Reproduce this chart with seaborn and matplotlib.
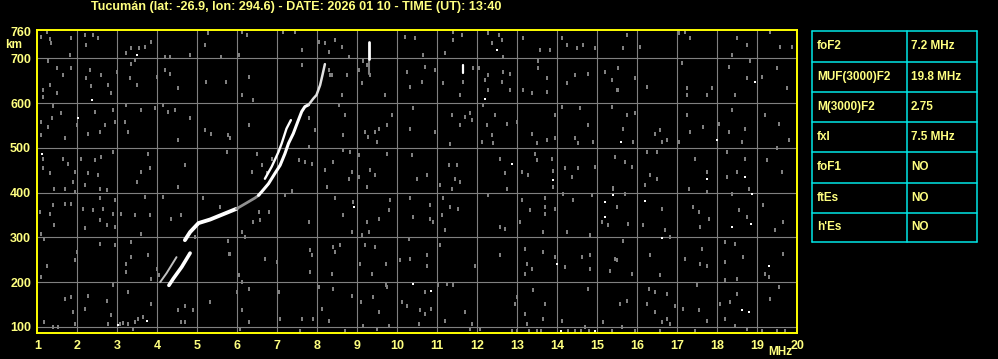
import numpy as np
import pandas as pd
import matplotlib
matplotlib.use("Agg")
import matplotlib.pyplot as plt
from matplotlib.markers import MarkerStyle
import seaborn as sns

# ---------------- data ----------------
title = "Tucumán (lat: -26.9, lon: 294.6) - DATE: 2026 01 10 - TIME (UT): 13:40"
freq_ticks = list(range(1, 21))
freq_labels = [str(v) for v in freq_ticks]
height_ticks = [100, 200, 300, 400, 500, 600, 700, 760]
height_labels = [str(v) for v in height_ticks]

param_names = ["foF2", "MUF(3000)F2", "M(3000)F2", "fxI", "foF1", "ftEs", "h'Es"]
param_values = ["7.2 MHz", "19.8 MHz", "2.75", "7.5 MHz", "NO", "NO", "NO"]

# echo trace segments (frequency MHz, virtual height km)
trace_o_low_f = [4.29, 4.40, 4.61, 4.82]
trace_o_low_h = [193, 208, 234, 265]
trace_x_low_f = [4.07, 4.23, 4.48]
trace_x_low_h = [200, 220, 256]
trace_main_f = [4.69, 4.82, 5.03, 5.32, 5.65, 5.98]
trace_main_h = [294, 312, 332, 340, 352, 364]
trace_link_f = [5.98, 6.23, 6.44, 6.55]
trace_link_h = [364, 377, 388, 395]
trace_upper_f = [6.53, 6.61, 6.78, 6.94, 7.07, 7.19, 7.28, 7.40, 7.51, 7.61, 7.69, 7.78]
trace_upper_h = [394, 402, 420, 443, 461, 487, 510, 532, 558, 581, 592, 596]
trace_top_f = [7.78, 7.90, 7.98, 8.07, 8.13, 8.19]
trace_top_h = [596, 610, 618, 640, 663, 687]
trace_x_up_f = [6.69, 6.86, 7.03, 7.11, 7.23, 7.34]
trace_x_up_h = [431, 458, 491, 510, 543, 562]
spike1_f = [9.29, 9.29]
spike1_h = [698, 737]
spike1_grey_h = [666, 698]
spike2_f = [11.65, 11.65]
spike2_h = [668, 685]

# background noise dots (frequency, height)
noise_1_5 = [
    (1.23, 758), (1.10, 748), (1.31, 743), (1.83, 746), (1.81, 707), (1.33, 734), (1.27, 693),
    (1.48, 678), (1.64, 663), (1.14, 629), (1.31, 640), (1.48, 622), (1.14, 614), (1.85, 678),
    (1.39, 594), (1.10, 558), (1.37, 566), (1.68, 521), (1.98, 551), (1.10, 528), (1.27, 547),
    (1.60, 577), (1.14, 476), (1.14, 454), (1.31, 443), (1.64, 476), (1.77, 465), (1.93, 446),
    (1.43, 409), (1.68, 409), (1.89, 424), (1.39, 372), (1.06, 357), (1.31, 353), (1.68, 375),
    (1.85, 375), (1.43, 327), (1.10, 308), (1.93, 402), (1.18, 297), (1.98, 267), (1.93, 249),
    (1.23, 237), (1.10, 211), (1.18, 111), (1.39, 100), (1.68, 163), (1.52, 100), (1.85, 167),
    (1.89, 133), (1.93, 107),
    (2.18, 752), (2.39, 752), (2.22, 730), (2.52, 745), (2.31, 674), (2.35, 639), (2.60, 663),
    (2.22, 655), (2.77, 640), (2.85, 622), (2.98, 670), (2.43, 581), (2.89, 584), (2.27, 532),
    (2.56, 536), (2.68, 551), (2.93, 558), (2.10, 476), (2.43, 472), (2.60, 480), (2.89, 491),
    (2.27, 443), (2.52, 439), (2.19, 416), (2.56, 409), (2.73, 405), (2.56, 387), (2.93, 383),
    (2.14, 364), (2.39, 361), (2.64, 364), (2.89, 353), (2.18, 320), (2.56, 338), (2.73, 327),
    (2.93, 323), (2.56, 286), (2.93, 282), (2.27, 170), (2.73, 159), (2.18, 140), (2.85, 126),
    (2.89, 193), (2.77, 107), (3.06, 107),
    (3.23, 711), (3.35, 722), (3.54, 722), (3.68, 726), (3.85, 737), (3.33, 687), (3.43, 696),
    (3.31, 655), (3.48, 640), (3.98, 659), (3.23, 596), (3.60, 584), (3.93, 588), (3.27, 536),
    (3.18, 558), (3.77, 487), (3.60, 446), (3.81, 454), (3.48, 424), (3.68, 390), (3.10, 353),
    (3.43, 349), (3.81, 349), (3.60, 308), (3.35, 290), (3.35, 256), (3.23, 241), (3.77, 260),
    (3.23, 223), (3.85, 208), (3.27, 178), (3.64, 122), (3.85, 152), (3.52, 118), (3.27, 107),
    (3.39, 96), (3.15, 110), (3.45, 112),
    (4.18, 704), (4.31, 704), (4.18, 674), (4.31, 666), (4.52, 634), (4.81, 707), (4.14, 596),
    (4.27, 581), (4.43, 584), (4.81, 566), (4.52, 517), (4.68, 461), (4.52, 413), (4.14, 390),
    (4.60, 349), (4.35, 342), (4.68, 148), (4.52, 137), (4.89, 137), (4.60, 111), (4.68, 111),
    (4.00, 230), (4.05, 215), (4.95, 300),
]
noise_5_10 = [
    (5.27, 756), (5.18, 730), (5.60, 704), (5.22, 648), (5.72, 648), (5.35, 532), (5.77, 528),
    (5.18, 540), (5.14, 387), (5.56, 368), (5.77, 293), (5.81, 264), (5.31, 155), (5.73, 491),
    (5.82, 521),
    (6.11, 758), (6.23, 752), (6.03, 707), (6.28, 659), (6.11, 618), (6.40, 607), (6.28, 551),
    (6.48, 487), (6.36, 446), (6.61, 461), (6.73, 443), (6.53, 357), (6.40, 334), (6.57, 338),
    (6.19, 301), (6.11, 312), (5.78, 264), (6.03, 215), (6.11, 200), (6.28, 185), (6.69, 252),
    (6.00, 178), (6.11, 137), (6.28, 111), (6.07, 96), (6.86, 476), (6.78, 357), (6.98, 245),
    (7.07, 118),
    (7.15, 758), (7.44, 758), (7.61, 719), (7.61, 684), (7.78, 566), (7.78, 502), (7.94, 540),
    (7.36, 403), (7.53, 472), (7.69, 469), (7.86, 465), (7.19, 394), (7.78, 334), (7.82, 271),
    (7.86, 260), (7.82, 223), (7.61, 118), (7.90, 118), (7.57, 92), (7.03, 178), (8.28, 674),
    (8.32, 663),
    (8.03, 737), (8.19, 734), (8.44, 741), (8.61, 726), (8.28, 715), (8.78, 704), (8.36, 663),
    (8.73, 663), (8.61, 618), (8.53, 596), (8.69, 573), (8.65, 528), (8.40, 469), (8.19, 450),
    (8.23, 413), (8.86, 446), (8.65, 495), (8.82, 491), (8.78, 431), (8.44, 387), (8.90, 379),
    (8.65, 349), (8.86, 312), (8.40, 278), (8.57, 282), (8.44, 267), (8.36, 219), (8.40, 185),
    (8.11, 140), (8.28, 114), (8.69, 92), (8.03, 189), (8.86, 170),
    (9.03, 674), (9.15, 693), (9.23, 685), (9.32, 663), (9.11, 644), (9.69, 618), (9.19, 536),
    (9.27, 525), (9.44, 536), (9.53, 543), (9.73, 551), (9.86, 573), (9.48, 513), (9.03, 484),
    (9.32, 450), (9.44, 439), (9.73, 487), (9.03, 435), (9.23, 413), (9.81, 383), (9.78, 361),
    (9.53, 342), (9.24, 334), (9.11, 305), (9.28, 312), (9.19, 282), (9.44, 279), (9.06, 241),
    (9.71, 241), (9.37, 219), (9.71, 193), (9.73, 189), (9.40, 167), (9.08, 155), (9.53, 133),
    (9.78, 103), (9.15, 103), (9.49, 96),
]
noise_10_15 = [
    (10.19, 748), (10.23, 670), (10.32, 637), (10.44, 745), (10.40, 588), (10.32, 543),
    (10.36, 484), (10.48, 431), (10.32, 387), (10.40, 346), (10.28, 297), (10.07, 249),
    (10.32, 252), (10.11, 155), (10.23, 148), (10.53, 107), (10.57, 137), (10.65, 707),
    (10.69, 681), (10.94, 674), (10.61, 648), (10.94, 536), (10.73, 439), (10.82, 372),
    (10.82, 342), (10.90, 334), (10.73, 260), (10.73, 237), (10.69, 178), (10.85, 140),
    (10.69, 129),
    (11.40, 758), (11.40, 741), (11.61, 752), (11.19, 711), (11.65, 648), (11.57, 618),
    (11.90, 678), (11.15, 644), (11.36, 573), (11.69, 569), (11.82, 577), (11.86, 562),
    (11.57, 551), (11.32, 509), (11.28, 461), (11.44, 431), (11.48, 461), (11.57, 424),
    (11.07, 416), (11.36, 409), (11.15, 387), (11.32, 368), (11.52, 364), (11.11, 349),
    (11.19, 316), (11.07, 282), (11.40, 193), (11.02, 193), (11.23, 197), (11.69, 133),
    (11.19, 114), (11.86, 107), (11.82, 96), (11.94, 237),
    (12.27, 756), (12.53, 752), (12.36, 734), (12.61, 741), (12.65, 704), (12.03, 678),
    (12.27, 663), (12.19, 651), (12.27, 629), (12.65, 670), (12.82, 666), (12.61, 648),
    (12.82, 629), (12.15, 596), (12.44, 573), (12.23, 551), (12.73, 554), (12.98, 558),
    (12.36, 528), (12.40, 510), (12.11, 513), (12.57, 476), (12.69, 443), (12.73, 409),
    (12.27, 394), (12.57, 323), (12.69, 319), (12.57, 260), (12.98, 167), (12.94, 152),
    (12.07, 96), (12.86, 92),
    (13.15, 745), (13.57, 719), (13.82, 719), (13.53, 693), (13.53, 678), (13.73, 655),
    (13.73, 625), (13.15, 629), (13.36, 622), (13.94, 573), (13.36, 532), (13.48, 510),
    (13.73, 517), (13.94, 521), (13.44, 487), (13.48, 472), (13.86, 476), (13.11, 446),
    (13.27, 439), (13.90, 448), (13.90, 413), (13.69, 387), (13.69, 368), (13.69, 353),
    (13.11, 383), (13.32, 361), (13.94, 364), (13.65, 312), (13.07, 334), (13.19, 275),
    (13.23, 241), (13.36, 230), (13.19, 219), (13.65, 267), (13.94, 256), (13.40, 182),
    (13.69, 152), (13.65, 118), (13.23, 107), (13.19, 129), (13.48, 92), (13.00, 90),
    (13.30, 90), (13.60, 90),
    (14.11, 745), (14.23, 730), (14.48, 722), (14.65, 730), (14.94, 722), (14.44, 663),
    (14.23, 644), (14.78, 666), (14.11, 592), (14.57, 588), (14.78, 551), (14.44, 521),
    (14.53, 510), (14.90, 513), (14.19, 454), (14.36, 435), (14.53, 454), (14.94, 458),
    (14.15, 398), (14.40, 383), (14.86, 394), (14.23, 312), (14.82, 305), (14.19, 234),
    (14.61, 256), (14.82, 260), (14.82, 230), (14.78, 185), (14.11, 114), (14.69, 100),
    (14.27, 92), (14.45, 90), (14.60, 90), (14.80, 91),
]
noise_15_20 = [
    (15.19, 670), (15.36, 651), (15.52, 678), (15.48, 629), (15.36, 592), (15.40, 409),
    (15.28, 327), (15.11, 334), (15.44, 252), (15.32, 226), (15.15, 111), (15.36, 92),
    (15.73, 752), (15.65, 722), (15.53, 678), (15.94, 655), (15.53, 629), (15.73, 573),
    (15.94, 577), (15.65, 543), (15.90, 513), (15.44, 480), (15.69, 469), (15.86, 458),
    (15.40, 410), (15.69, 398), (15.48, 368), (15.78, 331), (15.65, 293), (15.48, 249),
    (15.86, 219), (15.73, 159), (15.57, 152), (15.61, 100), (15.94, 92),
    (16.07, 726), (16.23, 637), (16.44, 532), (16.57, 540), (16.61, 513), (16.74, 517),
    (16.23, 491), (16.48, 491), (16.32, 439), (16.48, 431), (16.19, 416), (16.61, 364),
    (16.15, 327), (16.69, 316), (16.82, 301), (16.32, 260), (16.57, 215), (16.28, 185),
    (16.44, 178), (16.74, 174), (16.23, 152), (16.44, 133), (16.61, 111), (16.74, 118),
    (16.82, 107), (16.57, 92), (16.94, 148),
    (17.19, 758), (17.32, 745), (17.03, 756), (17.11, 689), (17.23, 633), (17.23, 618),
    (17.73, 618), (17.86, 633), (17.23, 573), (17.65, 547), (17.32, 536), (17.03, 513),
    (17.44, 476), (17.73, 446), (17.28, 409), (17.73, 402), (17.40, 368), (17.53, 357),
    (17.57, 323), (17.78, 342), (17.61, 275), (17.57, 241), (17.73, 237), (17.19, 252),
    (17.48, 193), (17.15, 140), (17.53, 137), (17.73, 114), (17.44, 92),
    (18.48, 745), (18.73, 730), (18.36, 707), (18.82, 693), (18.28, 681), (18.73, 655),
    (18.44, 618), (18.36, 584), (18.03, 554), (18.28, 536), (18.69, 543), (18.61, 513),
    (18.23, 491), (18.69, 476), (18.48, 446), (18.23, 435), (18.78, 409), (18.36, 398),
    (18.53, 361), (18.73, 346), (18.19, 290), (18.44, 286), (18.65, 256), (18.19, 245),
    (18.48, 208), (18.19, 204), (18.48, 174), (18.32, 155), (18.07, 152), (18.19, 118),
    (18.44, 103), (18.73, 96),
    (19.32, 758), (19.57, 726), (19.86, 726), (19.11, 659), (19.48, 678), (19.73, 633),
    (19.19, 573), (19.53, 554), (19.78, 517), (19.48, 499), (19.23, 472), (19.61, 446),
    (19.15, 372), (19.65, 334), (19.44, 316), (19.28, 211), (19.65, 264), (19.19, 219),
    (19.53, 189), (19.32, 163), (19.11, 92), (19.48, 92), (19.69, 92),
]
noise_white = [
    (1.12, 487), (2.38, 607), (2.02, 566), (3.48, 707), (3.03, 105), (3.73, 114),
    (8.92, 368), (10.40, 196), (10.84, 180), (12.48, 719), (12.19, 610), (12.86, 465),
    (13.90, 428), (13.98, 241), (14.94, 90), (14.09, 92), (15.19, 378), (15.38, 394),
    (15.19, 346), (15.59, 513), (15.40, 394), (16.19, 381), (16.63, 299), (17.73, 431),
    (17.98, 517), (18.94, 648), (18.69, 435), (18.88, 398), (18.38, 323), (18.84, 331),
    (18.63, 137), (18.79, 133), (19.28, 237),
]

# ---------------- style ----------------
sns.set_style("dark")
plt.rcParams["font.family"] = ["Liberation Sans", "DejaVu Sans"]
YEL_TEXT = "#ffff80"
YEL_FRAME = "#ffff00"
GRID = "#808080"
CYAN = "#00e6e6"

W, H = 998, 359
fig = plt.figure(figsize=(W / 100, H / 100), dpi=100, facecolor="black")
ax = fig.add_axes([37.3 / W, 26 / H, 760 / W, 303.5 / H], facecolor="black")

# noise
noise_all = pd.DataFrame(noise_1_5 + noise_5_10 + noise_10_15 + noise_15_20, columns=["f", "h"])
noise_w = pd.DataFrame(noise_white, columns=["f", "h"])
bar_marker = MarkerStyle([(-0.5, -0.8), (0.5, -0.8), (0.5, 0.8), (-0.5, 0.8), (-0.5, -0.8)])
sns.scatterplot(data=noise_all, x="f", y="h", ax=ax, color=GRID, marker=bar_marker,
                s=8, linewidth=0, zorder=3, legend=False)
sns.scatterplot(data=noise_w, x="f", y="h", ax=ax, color="white", marker="s",
                s=4.5, linewidth=0, zorder=4, legend=False)

def seg(fx, hy, color="white", lw=2.4):
    d = pd.DataFrame({"f": fx, "h": hy})
    sns.lineplot(data=d, x="f", y="h", ax=ax, sort=False, estimator=None,
                 color=color, linewidth=lw, zorder=5, legend=False)

seg(trace_o_low_f, trace_o_low_h, lw=2.6)
seg(trace_x_low_f, trace_x_low_h, color="#c0c0c0", lw=1.4)
seg(trace_main_f, trace_main_h, lw=2.8)
seg(trace_link_f, trace_link_h, color="#909090", lw=2.0)
seg(trace_upper_f, trace_upper_h, lw=2.2)
seg(trace_top_f, trace_top_h, color="#e0e0e0", lw=1.8)
seg(trace_x_up_f, trace_x_up_h, lw=1.7)
seg(spike1_f, spike1_grey_h, color=GRID, lw=1.5)
seg(spike1_f, spike1_h, lw=2.0)
seg(spike2_f, spike2_h, lw=1.6)

# axes
ax.set_xlim(1, 20)
ax.set_ylim(86.6, 764.3)
ax.set_xticks(freq_ticks)
ax.set_xticklabels(freq_labels)
ax.set_yticks(height_ticks)
ax.set_yticklabels(height_labels)
ax.set_xlabel("")
ax.set_ylabel("")
ax.tick_params(axis="both", length=0, colors=YEL_TEXT, labelsize=9)
ax.tick_params(axis="x", pad=5)
ax.tick_params(axis="y", pad=4.5)
for lab in ax.get_xticklabels() + ax.get_yticklabels():
    lab.set_fontweight("bold")
    lab.set_color(YEL_TEXT)
ax.grid(False)
for xv in range(2, 20):
    ax.axvline(xv, color=GRID, linewidth=0.8, zorder=1)
for yv in [100, 200, 300, 400, 500, 600, 700]:
    ax.axhline(yv, color=GRID, linewidth=0.8, zorder=1)
for sp in ax.spines.values():
    sp.set_visible(True)
    sp.set_color(YEL_FRAME)
    sp.set_linewidth(1.4)
    sp.set_zorder(6)

# texts
fig.text(91 / W, 1 - 7 / H, title, color=YEL_TEXT, fontsize=9.1, fontweight="bold",
         ha="left", va="center")
fig.text(13.5 / W, 1 - 45 / H, "km", color=YEL_TEXT, fontsize=8.5, fontweight="bold",
         ha="center", va="center")
fig.text(780 / W, 1 - 352 / H, "MHz", color=YEL_TEXT, fontsize=8.5, fontweight="bold",
         ha="center", va="center")

# parameter table
tx0, tx1, tx2 = 812.3, 907.3, 977.3
row_edges = [30.7, 61.7, 91.7, 121.7, 151.7, 182.7, 212.7, 242.3]
for yb in row_edges:
    fig.add_artist(plt.Line2D([tx0 / W, tx2 / W], [1 - yb / H, 1 - yb / H],
                              color=CYAN, linewidth=1.1))
for xb in (tx0, tx1, tx2):
    fig.add_artist(plt.Line2D([xb / W, xb / W], [1 - row_edges[0] / H, 1 - row_edges[-1] / H],
                              color=CYAN, linewidth=1.1))
for i, (nm, val) in enumerate(zip(param_names, param_values)):
    yc = (row_edges[i] + row_edges[i + 1]) / 2
    fig.text(817 / W, 1 - yc / H, nm, color=YEL_TEXT, fontsize=8.5, fontweight="bold",
             ha="left", va="center")
    fig.text(911 / W, 1 - yc / H, val, color=YEL_TEXT, fontsize=8.5, fontweight="bold",
             ha="left", va="center")

fig.savefig("out.png", dpi=100, facecolor="black")
